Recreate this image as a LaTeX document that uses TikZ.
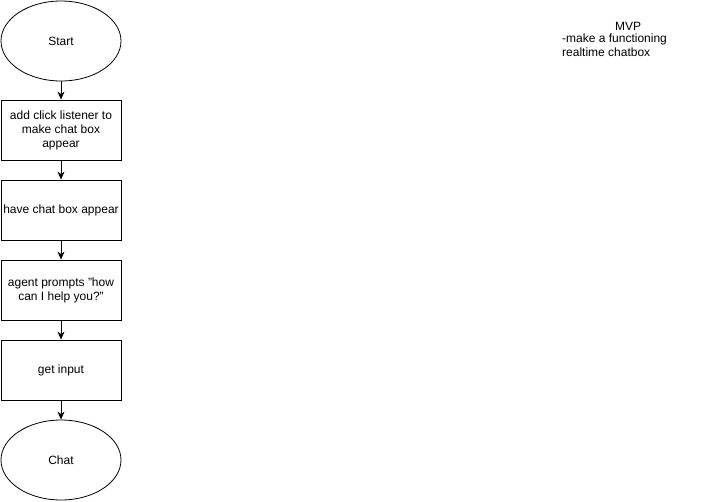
\documentclass[tikz,border=0pt]{standalone}
\usepackage{fontspec}
\setmainfont{Liberation Sans}
\usetikzlibrary{shapes.geometric,arrows.meta}
\begin{document}
\begin{tikzpicture}[x=1pt,y=-1pt,
  every node/.style={font=\fontsize{12}{14}\selectfont},
  proc/.style={draw,line width=0.8pt,minimum width=120pt,minimum height=60pt,align=center,inner sep=0pt},
  term/.style={draw,ellipse,line width=0.8pt,minimum width=120pt,minimum height=80pt,inner sep=0pt},
  flow/.style={line width=0.9pt,-{Stealth[length=8pt,width=7pt,inset=2.5pt]}}]
\useasboundingbox (0,0) rectangle (711,501);
\node[term] (start) at (61,41) {Start};
\node[proc] (b1) at (61,130) {add click listener to\\make chat box\\appear};
\node[proc] (b2) at (61,210) {have chat box appear};
\node[proc] (b3) at (61,290) {agent prompts \symbol{34}how\\can I help you?\symbol{34}};
\node[proc] (b4) at (61,370) {get input};
\node[term] (chat) at (61,460) {Chat};
\draw[flow] (start) -- (b1);
\draw[flow] (b1) -- (b2);
\draw[flow] (b2) -- (b3);
\draw[flow] (b3) -- (b4);
\draw[flow] (b4) -- (chat);
\node (mvp) at (628,26) {MVP};
\node[anchor=north west,align=left,inner sep=0pt] (goal) at (562,34) {-make a functioning\\realtime chatbox};
\end{tikzpicture}
\end{document}
